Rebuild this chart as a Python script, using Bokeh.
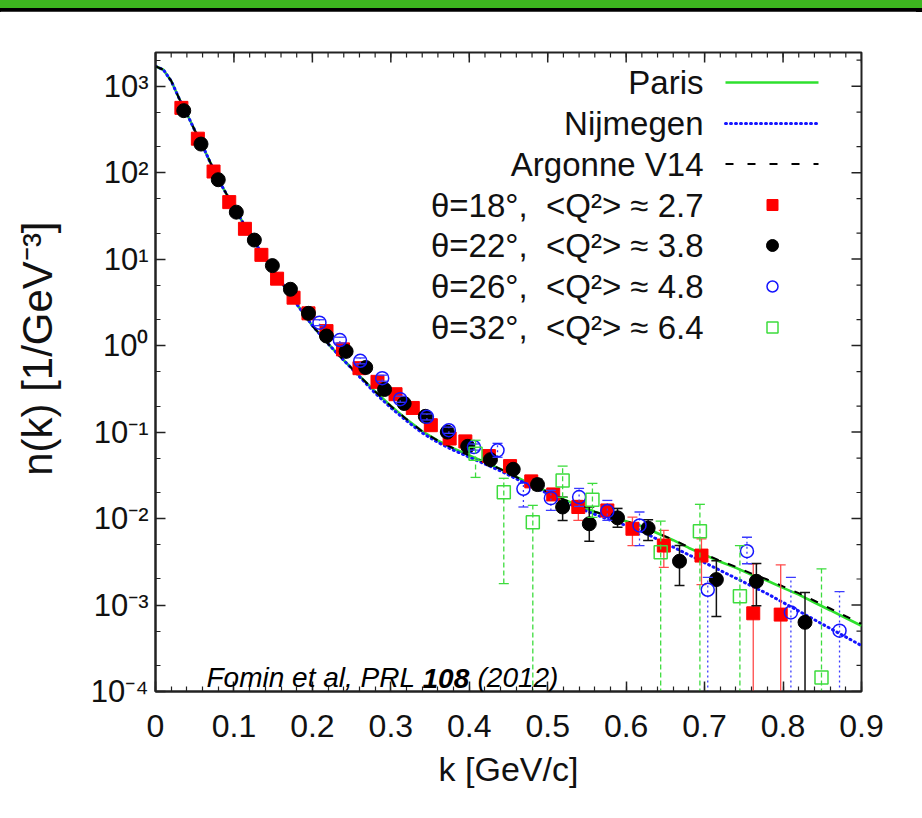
import math
import numpy as np
from bokeh.plotting import figure
from bokeh.models import Range1d, FixedTicker, Label, Div
from bokeh.layouts import column
from bokeh.embed import file_html
from bokeh.resources import INLINE

# ---------------- data ----------------
k_model = [0.00, 0.01, 0.02, 0.03, 0.04, 0.05, 0.06, 0.08, 0.10, 0.12, 0.14, 0.16, 0.18,
           0.20, 0.22, 0.24, 0.26, 0.28, 0.30, 0.32, 0.34, 0.36, 0.38, 0.40, 0.42, 0.44,
           0.46, 0.48, 0.50, 0.52, 0.54, 0.56, 0.58, 0.60, 0.62, 0.64, 0.66, 0.68, 0.70,
           0.72, 0.74, 0.76, 0.78, 0.80, 0.82, 0.84, 0.86, 0.88, 0.90]
n_paris = [1700, 1550, 1150, 724, 479, 309, 204, 83.2, 39.8, 19.5, 10.0, 5.50, 3.02,
           1.70, 1.05, 0.676, 0.447, 0.295, 0.200, 0.141, 0.102, 0.0794, 0.0646, 0.0537,
           0.0447, 0.0372, 0.0302, 0.0245, 0.0204, 0.0166, 0.0141, 0.0120, 0.0105,
           0.00933, 0.00813, 0.00676, 0.00562, 0.00457, 0.00380, 0.00316, 0.00269,
           0.00224, 0.00191, 0.00158, 0.00132, 0.00107, 0.000871, 0.000708, 0.000575]
n_nijmegen = [1700, 1550, 1150, 724, 479, 309, 204, 83.2, 39.8, 19.5, 10.0, 5.50, 3.02,
              1.70, 1.05, 0.676, 0.437, 0.282, 0.191, 0.135, 0.0977, 0.0759, 0.0617,
              0.0513, 0.0427, 0.0355, 0.0288, 0.0234, 0.0195, 0.0158, 0.0132, 0.0112,
              0.00955, 0.00832, 0.00708, 0.00575, 0.00468, 0.00380, 0.00309, 0.00251,
              0.00204, 0.00166, 0.00135, 0.00107, 0.000851, 0.000676, 0.000537,
              0.000427, 0.000339]
n_argonne = [1700, 1550, 1150, 724, 479, 309, 204, 83.2, 39.8, 19.5, 10.0, 5.50, 3.02,
             1.70, 1.05, 0.676, 0.447, 0.295, 0.200, 0.141, 0.102, 0.0794, 0.0646, 0.0537,
             0.0447, 0.0372, 0.0302, 0.0245, 0.0204, 0.0166, 0.0141, 0.0120, 0.0105,
             0.00933, 0.00813, 0.00676, 0.00570, 0.00465, 0.00388, 0.00324, 0.00276,
             0.00231, 0.00197, 0.00164, 0.00137, 0.00112, 0.000912, 0.000742, 0.000605]

# theta = 18 deg, <Q2> ~ 2.7
k18 = [0.033, 0.054, 0.074, 0.094, 0.114, 0.135, 0.155, 0.176, 0.195, 0.218, 0.239, 0.260,
       0.283, 0.306, 0.328, 0.351, 0.375, 0.395, 0.425, 0.452, 0.479, 0.507, 0.539, 0.576,
       0.608, 0.648, 0.696, 0.762, 0.797]
n18 = [561, 247, 103, 45.6, 22.4, 11.2, 5.94, 3.58, 2.36, 1.47, 0.904, 0.548, 0.381, 0.274,
       0.190, 0.120, 0.0842, 0.078, 0.0528, 0.0404, 0.0269, 0.0190, 0.0136, 0.0124, 0.00762,
       0.00487, 0.00373, 0.000802, 0.000775]
lo18 = [539, 237, 98.9, 43.8, 21.5, 10.8, 5.70, 3.44, 2.27, 1.41, 0.868, 0.526, 0.366,
        0.263, 0.182, 0.104, 0.078, 0.072, 0.048, 0.037, 0.024, 0.0165, 0.0095, 0.0104,
        0.00487, 0.00273, 0.00172, 0.00005, 0.00005]
hi18 = [583, 257, 107, 47.4, 23.3, 11.6, 6.18, 3.72, 2.45, 1.53, 0.940, 0.570, 0.396,
        0.285, 0.198, 0.128, 0.090, 0.084, 0.058, 0.044, 0.030, 0.0215, 0.0162, 0.0142,
        0.0104, 0.00728, 0.00583, 0.00300, 0.00292]

# theta = 22 deg, <Q2> ~ 3.8
k22 = [0.036, 0.058, 0.080, 0.103, 0.126, 0.149, 0.172, 0.195, 0.218, 0.243, 0.268, 0.292,
       0.317, 0.344, 0.372, 0.398, 0.427, 0.456, 0.487, 0.519, 0.553, 0.589, 0.628, 0.668,
       0.715, 0.766, 0.828]
n22 = [521, 214, 82.8, 34.9, 16.6, 8.41, 4.48, 2.36, 1.29, 0.857, 0.558, 0.311, 0.214,
       0.152, 0.100, 0.0684, 0.048, 0.0371, 0.0247, 0.0136, 0.0087, 0.0102, 0.00774,
       0.00321, 0.00197, 0.00188, 0.000631]
lo22 = [500, 205, 79.5, 33.5, 15.9, 8.07, 4.30, 2.27, 1.24, 0.823, 0.536, 0.299, 0.205,
        0.146, 0.096, 0.0657, 0.0445, 0.0345, 0.0215, 0.00951, 0.00547, 0.00794, 0.00557,
        0.00168, 0.000735, 0.000984, 0.00005]
hi22 = [542, 223, 86.1, 36.3, 17.3, 8.75, 4.66, 2.45, 1.34, 0.891, 0.580, 0.323, 0.223,
        0.158, 0.104, 0.0711, 0.0515, 0.040, 0.0285, 0.0177, 0.0136, 0.0131, 0.00968,
        0.00487, 0.00326, 0.00302, 0.00140]

# theta = 26 deg, <Q2> ~ 4.8
k26 = [0.209, 0.235, 0.261, 0.289, 0.312, 0.346, 0.374, 0.406, 0.436, 0.469, 0.504, 0.540,
       0.576, 0.617, 0.704, 0.754, 0.810, 0.872]
n26 = [1.84, 1.16, 0.667, 0.420, 0.240, 0.150, 0.105, 0.0671, 0.0615, 0.0221, 0.0172,
       0.0177, 0.0122, 0.00832, 0.00150, 0.00419, 0.000822, 0.000505]
lo26 = [1.70, 1.07, 0.615, 0.387, 0.221, 0.138, 0.0967, 0.0618, 0.0511, 0.0136, 0.0124,
        0.0138, 0.00951, 0.00487, 0.00005, 0.00300, 0.00005, 0.00005]
hi26 = [1.99, 1.25, 0.720, 0.455, 0.260, 0.162, 0.114, 0.0728, 0.0741, 0.0257, 0.0212,
        0.0223, 0.0162, 0.0119, 0.00209, 0.00608, 0.00209, 0.00143]

# theta = 32 deg, <Q2> ~ 6.4
k32 = [0.408, 0.444, 0.481, 0.519, 0.557, 0.644, 0.694, 0.745, 0.849]
n32 = [0.0563, 0.0202, 0.00908, 0.0276, 0.0165, 0.00408, 0.00714, 0.00126, 0.000145]
lo32 = [0.0299, 0.00177, 0.00005, 0.0176, 0.0103, 0.00005, 0.00005, 0.00005, 0.00005]
hi32 = [0.0804, 0.0292, 0.0142, 0.0404, 0.0255, 0.00933, 0.0146, 0.00487, 0.00262]

legend_labels = ["Paris", "Nijmegen", "Argonne V14",
                 "θ=18°,\u00a0 <Q²> ≈ 2.7", "θ=22°,\u00a0 <Q²> ≈ 3.8",
                 "θ=26°,\u00a0 <Q²> ≈ 4.8", "θ=32°,\u00a0 <Q²> ≈ 6.4"]

x_ticks = [0.0, 0.1, 0.2, 0.3, 0.4, 0.5, 0.6, 0.7, 0.8, 0.9]
x_tick_labels = ["0", "0.1", "0.2", "0.3", "0.4", "0.5", "0.6", "0.7", "0.8", "0.9"]
y_ticks = [1e-4, 1e-3, 1e-2, 1e-1, 1.0, 10.0, 100.0, 1000.0]
y_tick_labels = ["10⁻⁴", "10⁻³", "10⁻²", "10⁻¹", "10⁰", "10¹", "10²", "10³"]

# ---------------- layout / style ----------------
X_MIN, X_MAX = 0.0, 0.9
Y_MIN, Y_MAX = 1e-4, 2450.0
FRAME_W, FRAME_H = 706, 639
FONT = "Liberation Sans"

GREEN = "#2ee02e"
BLUE = "#1515ff"
RED = "#ff0000"
OPEN_GREEN = "#3ddc3d"
AXC = "#222222"


def fx(px):
    return X_MIN + px / FRAME_W * (X_MAX - X_MIN)


def fy(py):
    lt, lb = math.log10(Y_MAX), math.log10(Y_MIN)
    return 10 ** (lt - py / FRAME_H * (lt - lb))


p = figure(frame_width=FRAME_W, frame_height=FRAME_H,
           x_range=Range1d(X_MIN, X_MAX), y_range=Range1d(Y_MIN, Y_MAX),
           y_axis_type="log", output_backend="svg", toolbar_location=None,
           min_border_left=155, min_border_right=55, min_border_top=41,
           min_border_bottom=120)
p.xgrid.visible = False
p.ygrid.visible = False
p.outline_line_color = AXC
p.outline_line_width = 2
p.background_fill_color = "white"
p.border_fill_color = "white"

x_minor = [round(v, 2) for v in np.arange(0.0, 0.901, 0.02)]
y_minor = [m * 10.0 ** e for e in range(-4, 4) for m in (2, 5) if m * 10.0 ** e <= Y_MAX]

bottom_ax = p.below[0]
left_ax = p.left[0]
bottom_ax.ticker = FixedTicker(ticks=x_ticks, minor_ticks=x_minor)
left_ax.ticker = FixedTicker(ticks=y_ticks, minor_ticks=y_minor)
bottom_ax.major_label_overrides = dict(zip(x_ticks, x_tick_labels))
left_ax.major_label_overrides = dict(zip(y_ticks, y_tick_labels))

for ax in (bottom_ax, left_ax):
    ax.major_tick_in = 10
    ax.major_tick_out = 0
    ax.minor_tick_in = 5
    ax.minor_tick_out = 0
    ax.major_tick_line_color = AXC
    ax.minor_tick_line_color = AXC
    ax.major_tick_line_width = 1.5
    ax.minor_tick_line_width = 1.2
    ax.axis_line_color = AXC
    ax.axis_line_width = 2
    ax.major_label_text_font = FONT
    ax.major_label_text_color = "#111111"
    ax.axis_label_text_font = FONT
    ax.axis_label_text_font_style = "normal"
    ax.axis_label_text_color = "#111111"

bottom_ax.major_label_text_font_size = "32px"
left_ax.major_label_text_font_size = "31px"
bottom_ax.major_label_standoff = 23
left_ax.major_label_standoff = 7
bottom_ax.axis_label = "k [GeV/c]"
bottom_ax.axis_label_text_font_size = "34px"
bottom_ax.axis_label_standoff = 10
left_ax.axis_label = "\u00a0" * 4 + "n(k) [1/GeV⁻³]"
left_ax.axis_label_text_font_size = "42px"
left_ax.axis_label_standoff = 27

# mirrored inward ticks on the top and right frame edges
top_major_y = fy(10)
top_minor_y = fy(5)
p.segment(x_ticks, [Y_MAX] * len(x_ticks), x_ticks, [top_major_y] * len(x_ticks),
          line_color=AXC, line_width=1.5)
p.segment(x_minor, [Y_MAX] * len(x_minor), x_minor, [top_minor_y] * len(x_minor),
          line_color=AXC, line_width=1.2)
p.segment([X_MAX] * len(y_ticks), y_ticks, [fx(FRAME_W - 10)] * len(y_ticks), y_ticks,
          line_color=AXC, line_width=1.5)
p.segment([X_MAX] * len(y_minor), y_minor, [fx(FRAME_W - 5)] * len(y_minor), y_minor,
          line_color=AXC, line_width=1.2)

# ---------------- model curves ----------------
p.line(k_model, n_paris, line_color=GREEN, line_width=2.6)
p.line(k_model, n_nijmegen, line_color=BLUE, line_width=3, line_dash="1 4", line_cap="round")
p.line(k_model, n_argonne, line_color="black", line_width=2, line_dash="8 10")


# ---------------- data with error bars ----------------
def errbars(k, lo, hi, color, dash, width):
    p.segment(k, lo, k, hi, line_color=color, line_width=width, line_dash=dash)
    p.scatter(k, lo, marker="dash", size=10, line_color=color, line_width=width)
    p.scatter(k, hi, marker="dash", size=10, line_color=color, line_width=width)


errbars(k18, lo18, hi18, "#ff4a4a", "solid", 1.3)
p.scatter(k18, n18, marker="square", size=13, fill_color=RED, line_color=RED)

errbars(k22, lo22, hi22, "#111111", "solid", 1.5)
p.scatter(k22, n22, marker="circle", size=14, fill_color="black", line_color="black")

errbars(k26, lo26, hi26, "#3a3aff", "2 3", 1.3)
p.scatter(k26, n26, marker="circle", size=13, fill_color=None, line_color=BLUE, line_width=1.5)

errbars(k32, lo32, hi32, OPEN_GREEN, "5 3", 1.3)
p.scatter(k32, n32, marker="square", size=13, fill_color=None, line_color=OPEN_GREEN,
          line_width=1.5)

# ---------------- legend (drawn by hand: sample on the right) ----------------
row_y = [30, 71, 111.5, 152.5, 193, 234, 275]
text_right = 548
line_x0, line_x1, mark_x = 570, 663, 617

for lbl, ry in zip(legend_labels, row_y):
    p.add_layout(Label(x=fx(text_right), y=fy(ry), text=lbl, text_font=FONT,
                       text_font_size="33px", text_align="right", text_baseline="middle",
                       text_color="#111111"))

p.line([fx(line_x0), fx(line_x1)], [fy(row_y[0])] * 2, line_color=GREEN, line_width=2.6)
p.line([fx(line_x0), fx(line_x1)], [fy(row_y[1])] * 2, line_color=BLUE, line_width=3,
       line_dash="1 4", line_cap="round")
p.line([fx(line_x0), fx(line_x1)], [fy(row_y[2])] * 2, line_color="black", line_width=2,
       line_dash="8 14")
p.scatter([fx(mark_x)], [fy(row_y[3])], marker="square", size=11, fill_color=RED, line_color=RED)
p.scatter([fx(mark_x)], [fy(row_y[4])], marker="circle", size=12, fill_color="black",
          line_color="black")
p.scatter([fx(mark_x)], [fy(row_y[5])], marker="circle", size=11, fill_color=None,
          line_color=BLUE, line_width=1.5)
p.scatter([fx(mark_x)], [fy(row_y[6])], marker="square", size=11, fill_color=None,
          line_color=OPEN_GREEN, line_width=1.5)

# ---------------- citation ----------------
for txt, px, py, style in (("Fomin et al, PRL", 51, 609, "italic"),
                           ("108", 267, 616, "bold italic"),
                           ("(2012)", 322, 609, "italic")):
    p.add_layout(Label(x=fx(px), y=fy(py), text=txt, text_font=FONT,
                       text_font_size="28px", text_font_style=style, text_color="black",
                       text_baseline="top"))

# ---------------- top banner ----------------
bar = Div(text='<div style="width:922px;height:8px;background:#3db71f"></div>'
               '<div style="width:922px;height:4px;background:#000"></div>',
          width=922, height=11, margin=0)

layout = column(bar, p, spacing=0)
open("out.html", "w").write(file_html(layout, INLINE))
